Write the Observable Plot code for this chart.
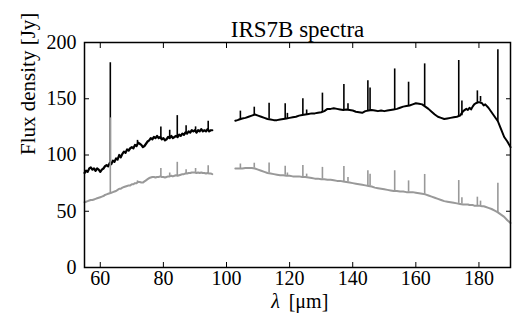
<!DOCTYPE html>
<html><head><meta charset="utf-8">
<script src="https://cdn.jsdelivr.net/npm/d3@7"></script>
<script src="https://cdn.jsdelivr.net/npm/@observablehq/plot@0.6"></script>
<style>
body{margin:0;background:#fff}
svg{display:block}
</style>
</head><body><div id="chart"></div>
<script>
// Segment 1 (blue PACS band)
const seg1Lam = [55.0,55.5,56.0,56.5,57.0,57.5,58.0,58.5,59.0,59.5,60.0,60.5,61.0,61.5,62.0,62.5,63.0,63.5,64.0,64.5,65.0,65.5,66.0,66.5,67.0,67.5,68.0,68.5,69.0,69.5,70.0,70.5,71.0,71.5,72.0,72.5,73.0,73.5,74.0,74.5,75.0,75.5,76.0,76.5,77.0,77.5,78.0,78.5,79.0,79.5,80.0,80.5,81.0,81.5,82.0,82.5,83.0,83.5,84.0,84.5,85.0,85.5,86.0,86.5,87.0,87.5,88.0,88.5,89.0,89.5,90.0,90.5,91.0,91.5,92.0,92.5,93.0,93.5,94.0,94.5,95.0,95.5];
const seg1Black = [84,86,85,88,89,87,88,86,88,87,85,87,88,90,91,90,93,92,95,94,97,96,100,98,101,103,102,105,104,106,107,106,109,108,111,110,109,107,108,110,112,113,115,114,116,115,117,115,116,114,115,113,114,116,115,117,115,116,117,116,118,117,119,118,120,119,121,120,122,121,122,120,122,121,123,121,122,121,123,121,122,122];
const seg1Gray = [58,58.5,59,59.5,60,60,60.5,61,61.5,62,62.5,63,63.5,64.5,65,65.5,66,66.5,67,67.5,68,69,70,70,71,71.5,72,72.5,73,73,74,74,75,75,76,76,75.5,75.5,76.5,77.5,78.5,79.5,80,80.5,80.5,80,80.5,80.5,81,80.5,80.5,80,80.5,81,81,81.5,81,81.5,82,81.5,82,82.5,83,83,83.5,83.5,84,84,84.5,84.5,84.5,84,84.5,84,84.5,84,84,83.5,84,83.5,83.5,83];

// Segment 2 (red PACS band)
const seg2Lam = [102.8,103.5,104,105,106,107,108,109,110,111,112,113,114,115,116,117,118,119,120,121,122,123,124,125,126,127,128,129,130,131,132,133,134,135,136,137,138,139,140,141,142,143,144,145,146,147,148,149,150,151,152,153,154,155,156,157,158,159,160,161,162,163,164,165,166,167,168,169,170,171,172,173,174,175,176,176.5,177,177.5,178,178.5,179,180,181,181.5,182,183,184,185,186,187,188,189,190];
const seg2Black = [130.5,131,131.5,132.5,133,134,135,136,135,134,133,132,131.5,131,131,131.5,132,132.5,133,133.5,134,135,135.5,136,136.5,137,137,137.5,138,139,141,141,141.5,141,140.5,140,140.5,140,139.5,138.5,138,137.5,139,139.5,140,139.5,139,139.5,139,139.5,140,140.5,141,142,143,143.5,144,145,146,145.5,145,143,141,138.5,136,134,133,132,132.5,133,133.5,134,135,139,141,140,142,140.5,143,145,146,147,146,144,145,142,138,134,130,123,116,112,107];
const seg2Gray = [88,88,88,88,88.5,88.5,88.5,88,87,86,85,84,83.5,83,82.5,82,82,81.5,81.5,81,81,81,80.5,80.5,80,79.5,79,79,78.5,78.5,78,78,77.5,77,77,76.5,76,75.5,75,74.5,74,73.5,73,72.5,72,71,70.5,70,69.5,69,68.5,68,68,67.5,67.5,67,67,67,66.5,66,65.5,65,64,63,62,61,60,59,58.5,58,57.5,57,56.5,56,56,56,55.5,55.5,55.5,55,55,55,54.5,54.5,54,53,52,50.5,49,47,45,42,39.5];

// Emission lines
const lineLam   = [63.18,71.8,79.2,82.0,84.4,87.2,90.2,94.2,104.4,108.8,113.5,118.6,119.3,124.2,125.4,130.4,137.2,138.5,144.8,145.5,153.3,157.7,162.8,173.6,174.6,179.5,180.5,186.0];
const blackBase = [92,110,115,115,116,119,121,122,131.5,135.5,132,132,132.5,135.5,136,138,140,140.5,139,139.5,140.5,143.5,143.5,134,135,146,147,130];
const blackPeak = [182,113,125,122,135,126,125,130,139,142.5,146,145.5,137,150,140,155,162.7,145.5,166,159.5,176.5,164.7,181,184,148,157,152,193.5];
const grayBase  = [66,75.5,80.5,81,81.5,83.5,84.5,83.5,88,88.3,84,82,81.5,80.5,80.5,78.5,76.5,76,73,72.5,68,67,65,57,56.5,55,55,49];
const grayPeak  = [133,77,88,84,93.5,87,88,90.5,92,92.7,93,90,84,90.7,83,89,89.8,80,86,83,86,77,82.7,77.3,62,62.5,59,75];

const xTicks = [60,80,100,120,140,160,180];
const yTicks = [0,50,100,150,200];

const seg1 = seg1Lam.map((x, i) => ({x, black: seg1Black[i], gray: seg1Gray[i]}));
const seg2 = seg2Lam.map((x, i) => ({x, black: seg2Black[i], gray: seg2Gray[i]}));
const lines = lineLam.map((x, i) => ({x, bb: blackBase[i], bp: blackPeak[i], gb: grayBase[i], gp: grayPeak[i]}));

const BLACK = "#000000", GRAY = "#999999";
const FONT = "Liberation Serif";
const fs = 20;

const chart = Plot.plot({
  width: 529, height: 331,
  marginLeft: 84, marginRight: 19, marginTop: 42, marginBottom: 64,
  x: {domain: [55, 190]},
  y: {domain: [0, 200]},
  style: {fontFamily: FONT, fontSize: fs + "px", color: "black", background: "white"},
  marks: [
    Plot.line(seg1, {x: "x", y: "black", stroke: BLACK, strokeWidth: 2.2}),
    Plot.line(seg2, {x: "x", y: "black", stroke: BLACK, strokeWidth: 2}),
    Plot.ruleX(lines, {x: "x", y1: "bb", y2: "bp", stroke: BLACK, strokeWidth: 1.6}),
    Plot.line(seg1, {x: "x", y: "gray", stroke: GRAY, strokeWidth: 2}),
    Plot.line(seg2, {x: "x", y: "gray", stroke: GRAY, strokeWidth: 2}),
    Plot.ruleX(lines, {x: "x", y1: "gb", y2: "gp", stroke: GRAY, strokeWidth: 1.6}),
    Plot.axisX(xTicks, {anchor: "bottom", tickSize: 0, tickPadding: 3, label: null, fontSize: fs}),
    Plot.axisX(xTicks, {anchor: "bottom", tickSize: -5, tickFormat: () => "", label: null}),
    Plot.axisX(xTicks, {anchor: "top", tickSize: -5, tickFormat: () => "", label: null}),
    Plot.axisY(yTicks, {anchor: "left", tickSize: 0, tickPadding: 8, label: null, fontSize: fs}),
    Plot.axisY(yTicks, {anchor: "left", tickSize: -5, tickFormat: () => "", label: null}),
    Plot.axisY(yTicks, {anchor: "right", tickSize: -5, tickFormat: () => "", label: null}),
    Plot.frame({stroke: BLACK, strokeWidth: 1.5}),
    Plot.text(["IRS7B spectra"], {frameAnchor: "top", dy: -22, fontSize: 23, fill: BLACK}),
    Plot.text(["Flux density [Jy]"], {frameAnchor: "left", dx: -56, rotate: -90, fontSize: 21, fill: BLACK}),
    Plot.text(["λ"], {frameAnchor: "bottom", dy: 40, dx: -22, fontSize: 20, fontStyle: "italic", fill: BLACK}),
    Plot.text(["[μm]"], {frameAnchor: "bottom", dy: 40, dx: 11, fontSize: 20, fill: BLACK})
  ]
});
chart.setAttribute("font-family", FONT);
chart.style.fontFamily = FONT;
chart.querySelectorAll("g, text, tspan").forEach(el => {
  el.setAttribute("font-family", FONT);
  el.style.fontFamily = FONT;
  const sz = el.getAttribute("font-size");
  if (sz) el.style.fontSize = (/px$/.test(sz) ? sz : sz + "px");
});
document.getElementById("chart").appendChild(chart);
</script>
</body></html>
